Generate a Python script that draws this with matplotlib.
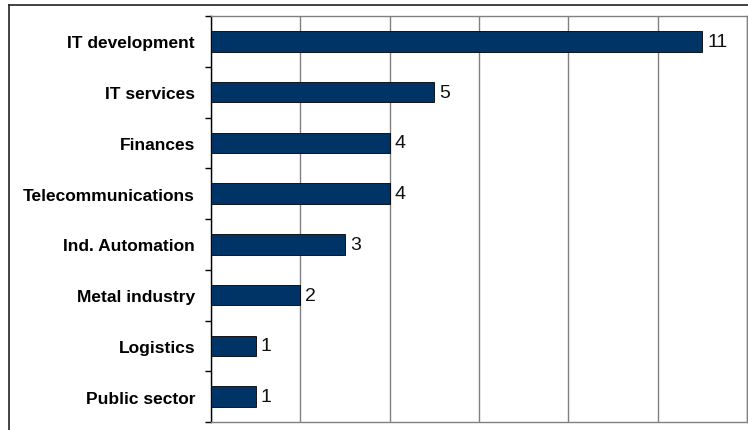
import matplotlib
matplotlib.use("Agg")
import matplotlib.pyplot as plt
from matplotlib.lines import Line2D

plt.rcParams['font.family'] = ['Liberation Sans', 'DejaVu Sans']

# Projects by industry
industries = ['IT development', 'IT services', 'Finances', 'Telecommunications',
              'Ind. Automation', 'Metal industry', 'Logistics', 'Public sector']
projects = [11, 5, 4, 4, 3, 2, 1, 1]

bar_color = '#003366'
grid_color = '#808080'

fig = plt.figure(figsize=(7.48, 4.31), dpi=100)
ax = fig.add_axes([211 / 748, 1 - 423 / 431, 536 / 748, 406 / 431])

ypos = list(range(len(industries)))
ax.barh(ypos, projects, height=0.4, color=bar_color, edgecolor='black', linewidth=0.6, zorder=3)

for y, v in zip(ypos, projects):
    ax.annotate(str(v), xy=(v, y), xytext=(3.5, 0), textcoords='offset points',
                va='center', ha='left', fontsize=14, color='#111111')

ax.set_xlim(0, 12)
ax.set_ylim(len(industries) - 0.5, -0.5)

ax.set_xticks(range(0, 13, 2))
ax.set_xticklabels([])
ax.tick_params(axis='x', length=0)
ax.grid(axis='x', color=grid_color, linewidth=1.0, zorder=0)

ax.set_yticks(ypos)
ax.set_yticklabels(industries, fontsize=12.5, fontweight='bold')
ax.tick_params(axis='y', which='major', length=0, pad=11.5)
ax.set_yticks([y - 0.5 for y in range(len(industries) + 1)], minor=True)
ax.tick_params(axis='y', which='minor', length=4, width=1, color='black', direction='out')

ax.spines['left'].set_color('black')
ax.spines['left'].set_linewidth(1)
for side in ['top', 'bottom', 'right']:
    ax.spines[side].set_color(grid_color)
    ax.spines[side].set_linewidth(1)

# outer frame around the chart
fig.add_artist(Line2D([9 / 748, 9 / 748], [0, 1 - 6 / 431], transform=fig.transFigure,
                      color='#222222', linewidth=1.2))
fig.add_artist(Line2D([9 / 748, 1], [1 - 6 / 431, 1 - 6 / 431], transform=fig.transFigure,
                      color='#222222', linewidth=1.2))

fig.savefig('out.png', dpi=100)
